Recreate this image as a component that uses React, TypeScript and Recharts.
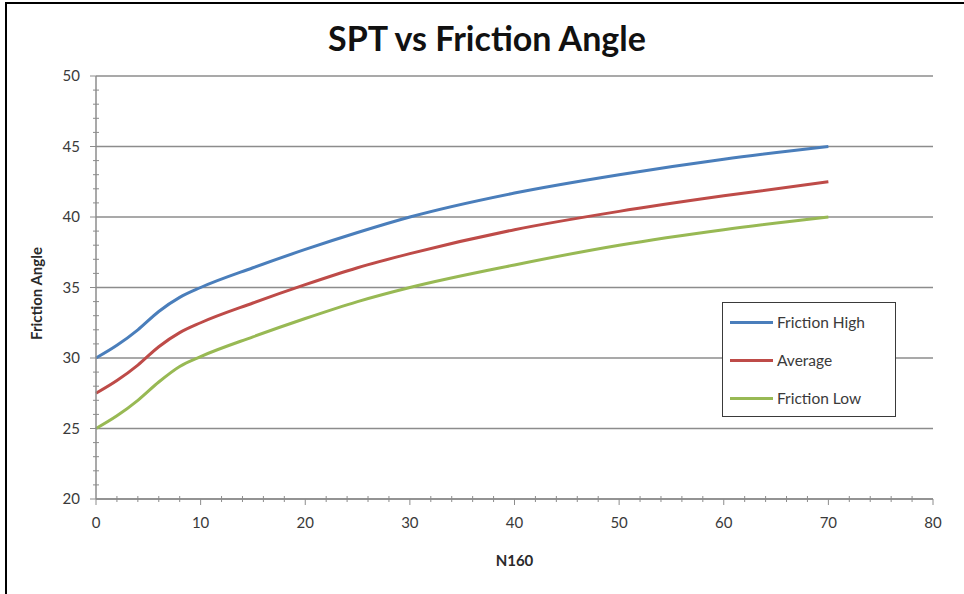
import React from 'react';
import { LineChart, Line, XAxis, YAxis, CartesianGrid, Legend } from 'recharts';

const n160 = [0, 2, 4, 6, 8, 10, 15, 20, 25, 30, 40, 50, 60, 70];
const frictionHigh = [30, 30.9, 32.0, 33.3, 34.3, 35.0, 36.4, 37.7, 38.9, 40.0, 41.7, 43.0, 44.1, 45.0];
const average = [27.5, 28.4, 29.5, 30.8, 31.8, 32.5, 33.9, 35.2, 36.4, 37.4, 39.1, 40.4, 41.5, 42.5];
const frictionLow = [25, 25.9, 27.0, 28.3, 29.4, 30.1, 31.5, 32.8, 34.0, 35.0, 36.6, 38.0, 39.1, 40.0];

const xMajorTicks = [0, 10, 20, 30, 40, 50, 60, 70, 80];
const yMajorTicks = [20, 25, 30, 35, 40, 45, 50];
const xAllTicks = Array.from({ length: 41 }, (_, i) => i * 2);
const yAllTicks = Array.from({ length: 31 }, (_, i) => 20 + i);

const series = [
  { key: 'high', name: 'Friction High', color: '#4A7EBB' },
  { key: 'avg', name: 'Average', color: '#BE4B48' },
  { key: 'low', name: 'Friction Low', color: '#98B954' },
];

const data = n160.map((n, i) => ({
  n,
  high: frictionHigh[i],
  avg: average[i],
  low: frictionLow[i],
}));

const FONT = 'Lato, "Open Sans", sans-serif';
const AXIS_COLOR = '#8c8c8c';

const XTick = (props: any) => {
  const { x, y, payload } = props;
  const major = xMajorTicks.includes(payload.value);
  return (
    <g>
      <line x1={x} x2={x} y1={major ? y : y - 3} y2={major ? y + 6 : y + 3} stroke={AXIS_COLOR} strokeWidth={1} />
      {major && (
        <text x={x} y={y + 29} textAnchor="middle" fontSize={15} fill="#3a3a3a" fontFamily={FONT}>
          {payload.value}
        </text>
      )}
    </g>
  );
};

const YTick = (props: any) => {
  const { x, y, payload } = props;
  const major = yMajorTicks.includes(payload.value);
  return (
    <g>
      <line x1={major ? x - 6 : x - 3} x2={major ? x : x + 3} y1={y} y2={y} stroke={AXIS_COLOR} strokeWidth={1} />
      {major && (
        <text x={x - 16} y={y + 5} textAnchor="end" fontSize={15} fill="#3a3a3a" fontFamily={FONT}>
          {payload.value}
        </text>
      )}
    </g>
  );
};

const renderLegend = () => (
  <div
    style={{
      width: 174,
      height: 115,
      border: '1.5px solid #3a3a3a',
      background: '#fff',
      boxSizing: 'border-box',
      position: 'relative',
      fontFamily: FONT,
    }}
  >
    {series.map((s, i) => (
      <div key={s.key} style={{ position: 'absolute', left: 7, top: 8 + i * 38, height: 22, display: 'flex', alignItems: 'center' }}>
        <div style={{ width: 43, height: 3, background: s.color, marginRight: 4 }} />
        <span style={{ fontSize: 15.5, color: '#3a3a3a' }}>{s.name}</span>
      </div>
    ))}
  </div>
);

export default function App() {
  return (
    <div style={{ position: 'absolute', left: 0, top: 0, width: 964, height: 594, background: '#fff', overflow: 'hidden' }}>
      <LineChart
        width={964}
        height={594}
        data={data}
        margin={{ top: 76, right: 31, bottom: 65, left: 16 }}
      >
        <CartesianGrid
          vertical={false}
          horizontalValues={yMajorTicks}
          stroke={AXIS_COLOR}
          strokeWidth={1.5}
        />
        <XAxis
          dataKey="n"
          type="number"
          domain={[0, 80]}
          ticks={xAllTicks}
          interval={0}
          tickSize={0}
          tickMargin={0}
          tickLine={false}
          tick={<XTick />}
          axisLine={{ stroke: AXIS_COLOR, strokeWidth: 1.5 }}
          height={30}
          label={{ value: 'N160', position: 'bottom', offset: 26, style: { fontFamily: FONT, fontWeight: 700, fontSize: 15, fill: '#2a2a2a' } }}
        />
        <YAxis
          type="number"
          domain={[20, 50]}
          ticks={yAllTicks}
          interval={0}
          tickSize={0}
          tickMargin={0}
          tickLine={false}
          tick={<YTick />}
          axisLine={{ stroke: AXIS_COLOR, strokeWidth: 1.5 }}
          width={80}
          label={{
            value: 'Friction Angle',
            angle: -90,
            position: 'insideLeft',
            offset: 21,
            dy: 6,
            style: { textAnchor: 'middle', fontFamily: FONT, fontWeight: 700, fontSize: 15, fill: '#2a2a2a' },
          }}
        />
        {series.map((s) => (
          <Line
            key={s.key}
            dataKey={s.key}
            name={s.name}
            type="monotone"
            stroke={s.color}
            strokeWidth={3}
            dot={false}
            activeDot={false}
            isAnimationActive={false}
          />
        ))}
        <Legend
          layout="horizontal"
          verticalAlign="middle"
          align="center"
          content={renderLegend}
          wrapperStyle={{ left: 722, top: 302, width: 174, height: 115 }}
        />
      </LineChart>
      <div
        style={{
          position: 'absolute',
          left: 0,
          width: 974,
          top: 17,
          textAlign: 'center',
          fontFamily: FONT,
          fontWeight: 700,
          fontSize: 34,
          color: '#111',
          pointerEvents: 'none',
        }}
      >
        SPT vs Friction Angle
      </div>
      <div
        style={{
          position: 'absolute',
          left: 5,
          top: 2,
          right: 0,
          bottom: 0,
          borderLeft: '2px solid #000',
          borderTop: '2px solid #000',
          pointerEvents: 'none',
        }}
      />
    </div>
  );
}
